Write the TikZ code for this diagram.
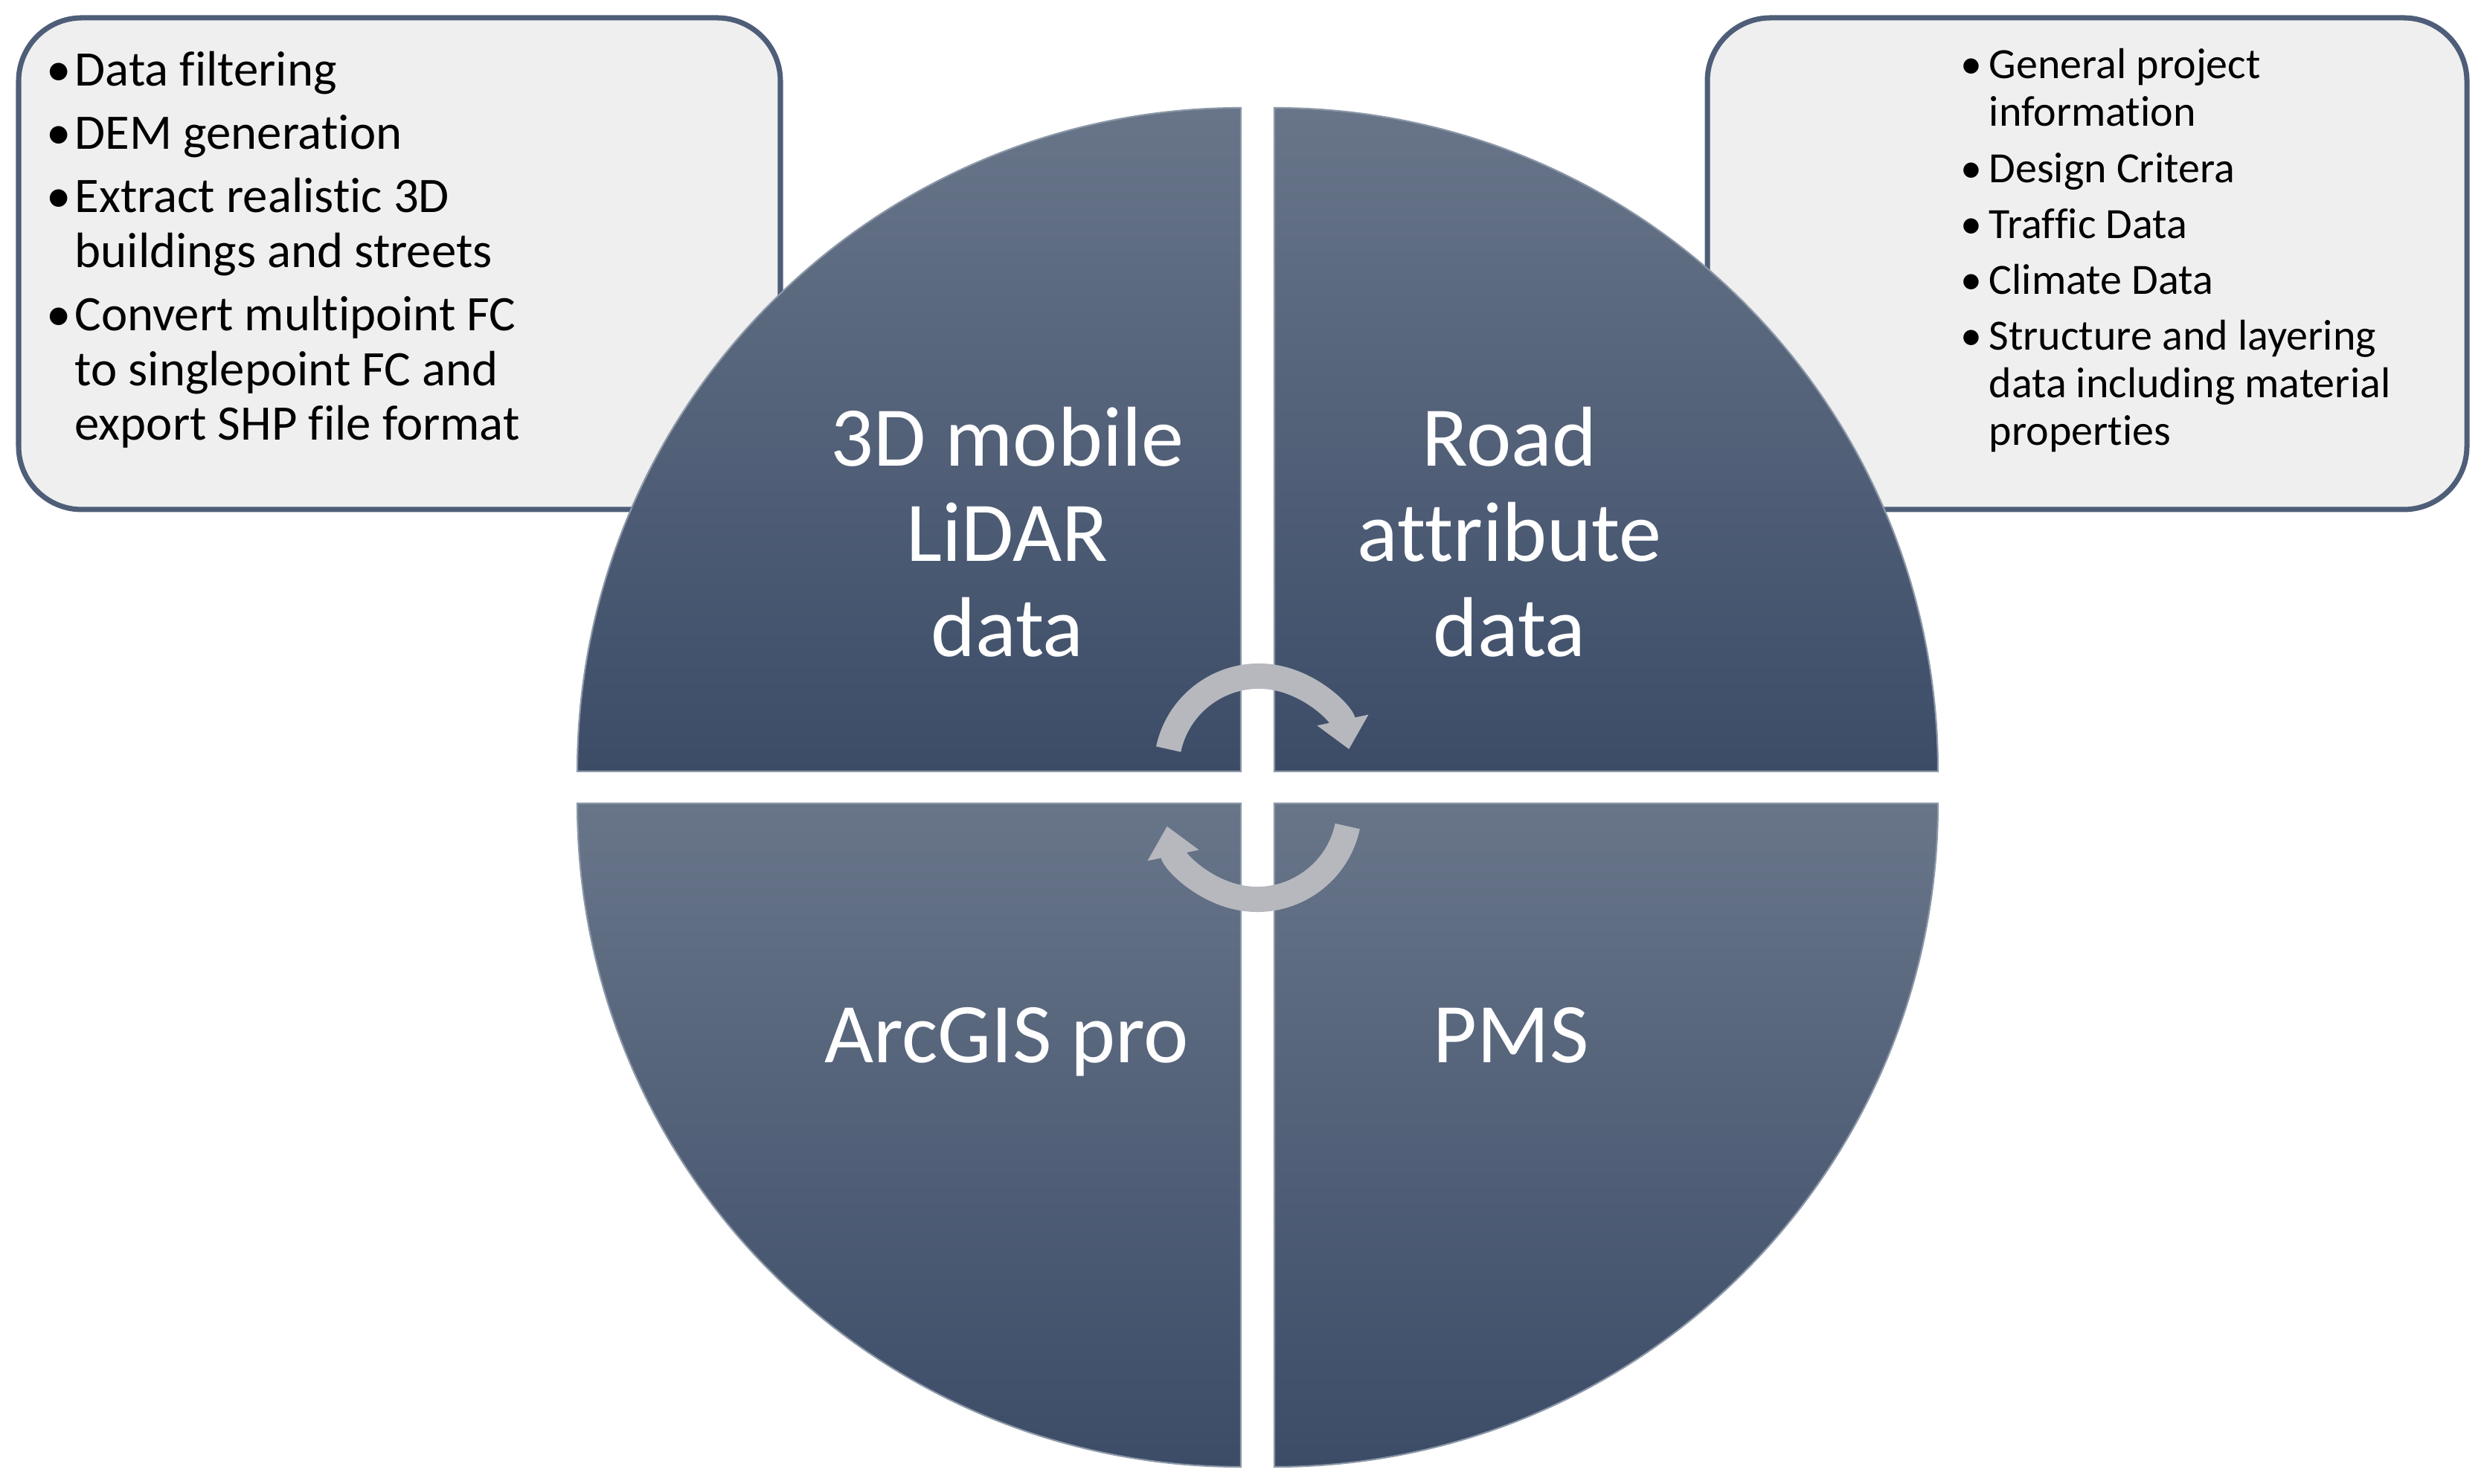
\documentclass[tikz,border=0pt]{standalone}
\usepackage{fontspec}
\setmainfont{Carlito}[Ligatures=NoCommon]
\usepackage{tikz}
\usetikzlibrary{arrows.meta,positioning}

\definecolor{quadtop}{RGB}{104,117,137}
\definecolor{quadbot}{RGB}{60,76,103}
\definecolor{quadedge}{RGB}{140,152,168}
\definecolor{boxfill}{RGB}{239,239,239}
\definecolor{boxline}{RGB}{78,94,120}
\definecolor{cyclegray}{RGB}{182,184,190}

\newcommand{\bul}{\makebox[0.38cm][l]{\textbullet}}
\newcommand{\cont}{\hspace*{0.38cm}}

\begin{document}
\begin{tikzpicture}[
  infobox/.style={draw=boxline, fill=boxfill, line width=2pt, rounded corners=0.85cm},
  quad/.style={top color=quadtop, bottom color=quadbot, draw=quadedge, line width=0.6pt},
  biglabel/.style={text=white, align=center, inner sep=0pt, font=\fontsize{32.5}{36.4}\selectfont},
  tasklist/.style={anchor=north west, align=left, inner sep=0pt},
  cyclearrow/.style={draw=cyclegray, line width=0.34cm, -{Triangle[width=0.68cm,length=0.4cm]}}
]
  \useasboundingbox (0,0) rectangle (33.39,19.95);

  %boxes
  \draw[infobox] (0.25,13.10) rectangle (10.49,19.71);
  \draw[infobox] (22.95,13.10) rectangle (33.16,19.71);

  %quadrants
  \shadedraw[quad] (16.68,9.58) -- ++(-8.92,0) arc[start angle=180, end angle=90, radius=8.92] -- cycle;
  \shadedraw[quad] (17.13,9.58) -- ++(0,8.92) arc[start angle=90, end angle=0, radius=8.92] -- cycle;
  \shadedraw[quad] (16.68,9.15) -- ++(0,-8.92) arc[start angle=270, end angle=180, radius=8.92] -- cycle;
  \shadedraw[quad] (17.13,9.15) -- ++(8.92,0) arc[start angle=0, end angle=-90, radius=8.92] -- cycle;

  %labels
  \node[biglabel] (lidar) at (13.54,12.80) {3D mobile\\LiDAR\\data};
  \node[biglabel] (road) at (20.29,12.80) {Road\\attribute\\data};
  \node[biglabel, anchor=base] (arcgis) at (13.53,5.66) {ArcGIS pro};
  \node[biglabel, anchor=base] (pms) at (20.31,5.66) {PMS};

  %lists
  \node[tasklist, font=\fontsize{19}{20.9}\selectfont] (lidartasks) at (0.62,19.27)
    {\bul Data filtering\\[3.4pt]\bul DEM generation\\[3.4pt]\bul Extract realistic 3D\\\cont buildings and streets\\[3.4pt]\bul Convert multipoint FC\\\cont to singlepoint FC and\\\cont export SHP file format};
  \node[tasklist, font=\fontsize{16.5}{18.2}\selectfont] (roadtasks) at (26.35,19.30)
    {\bul General project\\\cont information\\[3.2pt]\bul Design Critera\\[3.2pt]\bul Traffic Data\\[3.2pt]\bul Climate Data\\[3.2pt]\bul Structure and layering\\\cont data including material\\\cont properties};

  %arrows
  \coordinate (topstart) at (15.707,9.878);
  \coordinate (botstart) at (18.113,8.842);
  \draw[cyclearrow] (topstart) arc[start angle=168, end angle=12, radius=1.24];
  \draw[cyclearrow] (botstart) arc[start angle=-12, end angle=-168, radius=1.24];
\end{tikzpicture}
\end{document}
